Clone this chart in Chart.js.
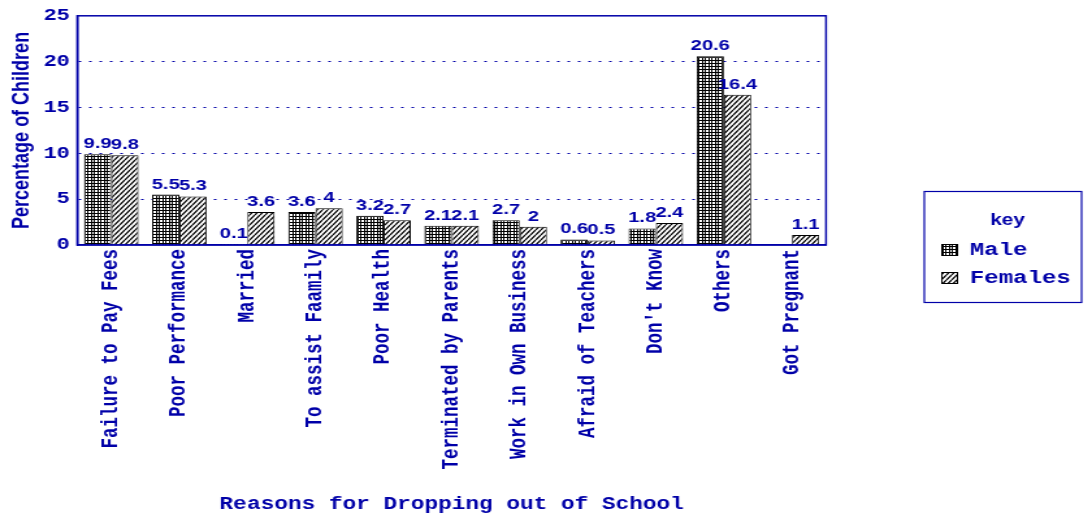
<!DOCTYPE html>
<html>
<head>
<meta charset="utf-8">
<script src="https://cdn.jsdelivr.net/npm/chart.js@4.4.1/dist/chart.umd.min.js"></script>
<style>
  html, body { margin: 0; padding: 0; background: #fff; overflow: hidden; }
  /* the original is stretched sideways, so the chart is drawn narrow and widened */
  #wrap { width: 834px; height: 513px; transform: scaleX(1.3); transform-origin: 0 0; }
</style>
</head>
<body>
<div id="wrap"><canvas id="chart" width="834" height="513"></canvas></div>
<script>
const categories = [
  'Failure to Pay Fees', 'Poor Performance', 'Married', 'To assist Faamily',
  'Poor Health', 'Terminated by Parents', 'Work in Own Business',
  'Afraid of Teachers', "Don't Know", 'Others', 'Got Pregnant'
];
const maleValues = [9.9, 5.5, 0.1, 3.6, 3.2, 2.1, 2.7, 0.6, 1.8, 20.6, null];
const femaleValues = [9.8, 5.3, 3.6, 4, 2.7, 2.1, 2, 0.5, 2.4, 16.4, 1.1];
const yTicks = [0, 5, 10, 15, 20, 25];

const BLUE = '#0000a8';
const MONO = '"Liberation Mono", "Courier New", monospace';
const SANS = '"Liberation Sans", Arial, sans-serif';

// checkered fill for the male bars
function gridPattern() {
  const c = document.createElement('canvas');
  c.width = 5; c.height = 3;
  const g = c.getContext('2d');
  g.fillStyle = '#fff';
  g.fillRect(0, 0, 5, 3);
  g.fillStyle = '#000';
  g.fillRect(0, 0, 5, 1);
  g.fillRect(0, 0, 1, 3);
  g.fillRect(2, 0, 1, 3);
  return g.createPattern(c, 'repeat');
}

// diagonal hatch for the female bars
function hatchPattern() {
  const c = document.createElement('canvas');
  c.width = 4; c.height = 5;
  const g = c.getContext('2d');
  g.fillStyle = '#fff';
  g.fillRect(0, 0, 4, 5);
  g.strokeStyle = '#000';
  g.lineWidth = 1.3;
  g.beginPath();
  for (const dx of [-4, 0, 4]) {
    g.moveTo(dx, 5);
    g.lineTo(dx + 4, 0);
  }
  g.stroke();
  return g.createPattern(c, 'repeat');
}

const valueLabels = {
  id: 'valueLabels',
  afterDatasetsDraw(chart) {
    const ctx = chart.ctx;
    ctx.save();
    ctx.font = 'bold 15.5px ' + SANS;
    ctx.fillStyle = BLUE;
    ctx.textAlign = 'center';
    ctx.textBaseline = 'alphabetic';
    chart.data.datasets.forEach((ds, i) => {
      chart.getDatasetMeta(i).data.forEach((bar, j) => {
        const v = ds.data[j];
        if (v == null) return;
        ctx.fillText(String(v), bar.x, bar.y - 6);
      });
    });
    ctx.restore();
  }
};

const frame = {
  id: 'frame',
  afterDraw(chart) {
    const a = chart.chartArea;
    const ctx = chart.ctx;
    ctx.save();
    ctx.strokeStyle = BLUE;
    ctx.lineWidth = 1.5;
    ctx.strokeRect(a.left, a.top, a.right - a.left, a.bottom - a.top);
    ctx.restore();
  }
};

const keyBox = {
  id: 'keyBox',
  afterDraw(chart) {
    const ctx = chart.ctx;
    ctx.save();
    ctx.strokeStyle = BLUE;
    ctx.lineWidth = 1.2;
    ctx.strokeRect(711, 191.5, 121, 111);
    ctx.fillStyle = BLUE;
    ctx.font = 'bold 16px ' + SANS;
    ctx.textAlign = 'center';
    ctx.textBaseline = 'middle';
    ctx.fillText('key', 775, 221);
    ctx.font = 'bold 18.5px ' + MONO;
    ctx.textAlign = 'left';
    chart.data.datasets.forEach((ds, i) => {
      const y = 250 + i * 28;
      ctx.fillStyle = ds.backgroundColor;
      ctx.fillRect(724, y - 5.5, 13, 11);
      ctx.strokeStyle = '#000';
      ctx.lineWidth = 1;
      ctx.strokeRect(724.5, y - 5.5, 12, 11);
      ctx.fillStyle = BLUE;
      ctx.fillText(ds.label, 746, y);
    });
    ctx.restore();
  }
};

document.addEventListener('DOMContentLoaded', () => {
  const ctx = document.getElementById('chart').getContext('2d');
  new Chart(ctx, {
    type: 'bar',
    data: {
      labels: categories,
      datasets: [
        {
          label: 'Male',
          data: maleValues,
          backgroundColor: gridPattern(),
          borderColor: '#000',
          borderWidth: 1,
          categoryPercentage: 0.8,
          barPercentage: 1
        },
        {
          label: 'Females',
          data: femaleValues,
          backgroundColor: hatchPattern(),
          borderColor: '#000',
          borderWidth: 1,
          categoryPercentage: 0.8,
          barPercentage: 1
        }
      ]
    },
    options: {
      responsive: false,
      animation: false,
      devicePixelRatio: 1,
      layout: { padding: { left: 1.2, right: 198.6, top: 7.6, bottom: 0 } },
      plugins: {
        legend: { display: false },
        tooltip: { enabled: false }
      },
      scales: {
        x: {
          // the rotated labels need more room than Chart.js allows by default
          afterFit: (scale) => { scale.height = 268; },
          grid: { display: false, drawTicks: false },
          border: { display: true, color: BLUE, width: 1.5 },
          ticks: {
            color: BLUE,
            font: { family: MONO, size: 17.5, weight: 'bold' },
            padding: 4,
            autoSkip: false,
            minRotation: 90,
            maxRotation: 90
          },
          title: {
            display: true,
            text: 'Reasons for Dropping out of School',
            color: BLUE,
            font: { family: MONO, size: 17.5, weight: 'bold' },
            padding: { top: 0, bottom: -2 }
          }
        },
        y: {
          min: yTicks[0],
          max: yTicks[yTicks.length - 1],
          grid: {
            drawTicks: false,
            lineWidth: 1,
            color: (c) => (c.tick && (c.tick.value === 0 || c.tick.value === 25)) ? 'rgba(0,0,0,0)' : BLUE
          },
          border: { display: true, color: BLUE, width: 1.5, dash: [2, 6] },
          ticks: {
            stepSize: yTicks[1] - yTicks[0],
            color: BLUE,
            font: { family: MONO, size: 17, weight: 'bold' },
            padding: 5.6
          },
          title: {
            display: true,
            text: 'Percentage of Children',
            color: BLUE,
            font: { family: SANS, size: 18, weight: 'bold' },
            padding: { top: 5, bottom: 0 }
          }
        }
      }
    },
    plugins: [valueLabels, frame, keyBox]
  });
});
</script>
</body>
</html>
